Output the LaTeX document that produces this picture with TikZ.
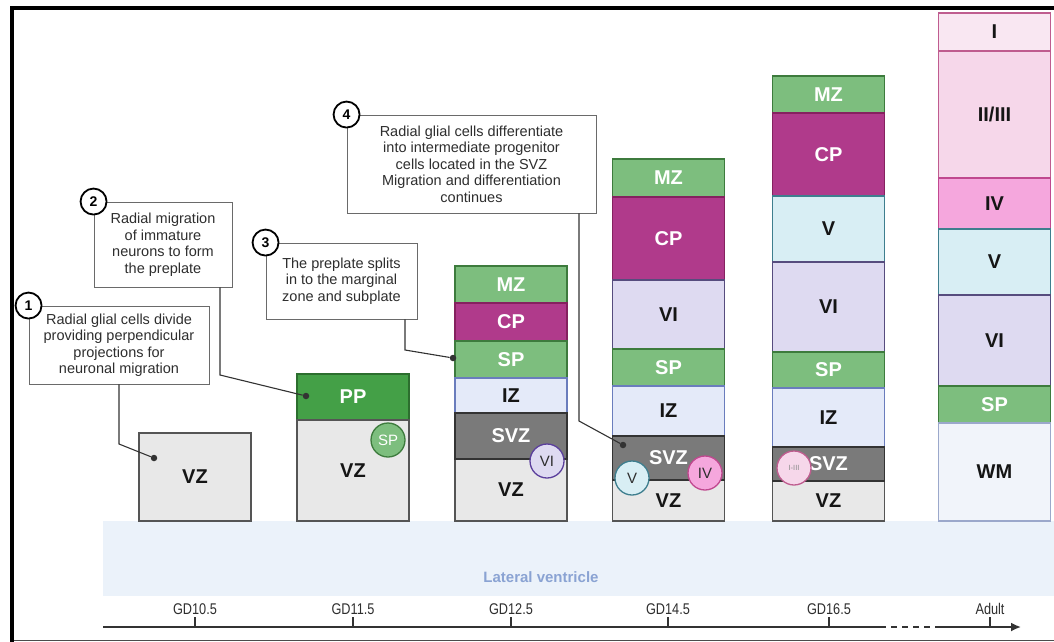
\documentclass[tikz,border=0pt]{standalone}
\usepackage{fontspec}
\setmainfont{Liberation Sans}
\newfontfamily\condfont[FakeStretch=0.82]{Liberation Sans}
\usetikzlibrary{arrows.meta}

% palette
\definecolor{ink}{HTML}{151515}
\definecolor{txt}{HTML}{2E2E2E}
\definecolor{boxline}{HTML}{6A6A6A}
\definecolor{leadc}{HTML}{333333}
\definecolor{ventfill}{HTML}{EBF2FA}
\definecolor{venttext}{HTML}{8AA3D3}
\definecolor{mzfill}{HTML}{7DBE7E}\definecolor{mzline}{HTML}{3D7B3D}
\definecolor{ppfill}{HTML}{44A047}\definecolor{ppline}{HTML}{2C6E2E}
\definecolor{cpfill}{HTML}{B03A8B}\definecolor{cpline}{HTML}{85215F}
\definecolor{izfill}{HTML}{E4EAF9}\definecolor{izline}{HTML}{6A7DBD}
\definecolor{svzfill}{HTML}{7A7A7A}\definecolor{svzline}{HTML}{333333}
\definecolor{vzfill}{HTML}{E8E8E8}\definecolor{vzline}{HTML}{555555}
\definecolor{vifill}{HTML}{DEDAF1}\definecolor{viline}{HTML}{564C7E}
\definecolor{vicirc}{HTML}{5B3F9C}
\definecolor{vfill}{HTML}{D8EEF4}\definecolor{vline}{HTML}{3E7E8E}
\definecolor{ivfill}{HTML}{F5A7DD}\definecolor{ivline}{HTML}{C0488F}
\definecolor{iifill}{HTML}{F6D7EA}\definecolor{iiline}{HTML}{BF5C8F}
\definecolor{ifill}{HTML}{F9E7F2}
\definecolor{wmfill}{HTML}{F1F4FA}\definecolor{wmline}{HTML}{9BA8CB}

% one layer of a cortical column: name, style, x centre, top, bottom, label
\newcommand\lyr[6]{%
  \pgfmathsetmacro\lyrh{#5-#4}%
  \pgfmathsetmacro\lyry{(#4+#5)/2}%
  \node[lyr,#2,minimum height=\lyrh pt] (#1) at (#3,\lyry) {#6};}

\begin{document}
\begin{tikzpicture}[x=1pt,y=-1pt,
  lyr/.style={draw, rectangle, inner sep=0pt, minimum width=112pt, line width=1.1pt,
    font=\fontsize{20}{24}\selectfont\bfseries, text=ink},
  zMZ/.style={fill=mzfill, draw=mzline, text=white},
  zPP/.style={fill=ppfill, draw=ppline, text=white},
  zCP/.style={fill=cpfill, draw=cpline, text=white},
  zIZ/.style={fill=izfill, draw=izline},
  zSVZ/.style={fill=svzfill, draw=svzline, text=white},
  zVZ/.style={fill=vzfill, draw=vzline},
  zVI/.style={fill=vifill, draw=viline},
  zV/.style={fill=vfill, draw=vline},
  zIV/.style={fill=ivfill, draw=ivline},
  zII/.style={fill=iifill, draw=iiline},
  zI/.style={fill=ifill, draw=iiline},
  zWM/.style={fill=wmfill, draw=wmline},
  cel/.style={circle, draw, line width=1.3pt, minimum size=34pt, inner sep=0pt,
    font=\fontsize{15}{18}\selectfont, text=txt},
  callout/.style={draw=boxline, line width=0.9pt, fill=white, align=center, inner sep=0pt,
    font=\fontsize{14.5}{16.5}\selectfont, text=txt},
  badge/.style={circle, draw=black, line width=1.8pt, fill=white, minimum size=26pt,
    inner sep=0pt, font=\fontsize{14}{16}\selectfont\bfseries},
  lead/.style={draw=leadc, line width=1.1pt},
  dot/.style={circle, fill=leadc, inner sep=0pt, minimum size=6.5pt},
  ticklab/.style={font=\condfont\fontsize{15.5}{18}\selectfont, text=txt, inner sep=1pt},
  axis/.style={draw=leadc, line width=1.8pt}]

\useasboundingbox (0,0) rectangle (1054,642);
\fill[white] (0,0) rectangle (1054,642);

% lateral ventricle
\node[fill=ventfill, minimum width=951pt, minimum height=75pt, inner sep=0pt] (vent) at (578.5,558.5) {};
\node[font=\fontsize{15}{18}\selectfont\bfseries, text=venttext] (ventlab) at (541,577) {Lateral ventricle};

% GD10.5
\lyr{aVZ}{zVZ}{195}{433}{521}{VZ}

% GD11.5
\lyr{bPP}{zPP}{353}{374}{420}{PP}
\lyr{bVZ}{zVZ}{353}{420}{521}{VZ}
\node[cel, fill=mzfill, draw=mzline, text=white] (bSPc) at (388,440) {SP};

% GD12.5
\lyr{cMZ}{zMZ}{511}{266}{303}{MZ}
\lyr{cCP}{zCP}{511}{303}{341}{CP}
\lyr{cSP}{zMZ}{511}{341}{378}{SP}
\lyr{cIZ}{zIZ}{511}{378}{413}{IZ}
\lyr{cVZ}{zVZ}{511}{459}{521}{VZ}
\lyr{cSVZ}{zSVZ}{511}{413}{459}{SVZ}
\node[cel, fill=vifill, draw=vicirc] (cVIc) at (547,461) {VI};

% GD14.5
\lyr{dMZ}{zMZ}{668.5}{159}{197}{MZ}
\lyr{dCP}{zCP}{668.5}{197}{280}{CP}
\lyr{dVI}{zVI}{668.5}{280}{349}{VI}
\lyr{dSP}{zMZ}{668.5}{349}{386}{SP}
\lyr{dIZ}{zIZ}{668.5}{386}{436}{IZ}
\lyr{dVZ}{zVZ}{668.5}{480}{521}{VZ}
\lyr{dSVZ}{zSVZ}{668.5}{436}{480}{SVZ}
\node[cel, fill=vfill, draw=vline] (dVc) at (632,478) {V};
\node[cel, fill=ivfill, draw=ivline] (dIVc) at (705,473) {IV};

% GD16.5
\lyr{eMZ}{zMZ}{828.5}{76}{113}{MZ}
\lyr{eCP}{zCP}{828.5}{113}{196}{CP}
\lyr{eV}{zV}{828.5}{196}{262}{V}
\lyr{eVI}{zVI}{828.5}{262}{352}{VI}
\lyr{eSP}{zMZ}{828.5}{352}{388}{SP}
\lyr{eIZ}{zIZ}{828.5}{388}{447}{IZ}
\lyr{eVZ}{zVZ}{828.5}{481}{521}{VZ}
\lyr{eSVZ}{zSVZ}{828.5}{447}{481}{SVZ}
\node[cel, fill=iifill, draw=iiline, text=black!45, font=\fontsize{7.5}{9}\selectfont] (eIIIc) at (794,468) {I-III};

% adult
\lyr{fI}{zI}{994.5}{13}{51}{I}
\lyr{fII}{zII}{994.5}{51}{178}{II/III}
\lyr{fIV}{zIV}{994.5}{178}{229}{IV}
\lyr{fV}{zV}{994.5}{229}{295}{V}
\lyr{fVI}{zVI}{994.5}{295}{386}{VI}
\lyr{fSP}{zMZ}{994.5}{386}{423}{SP}
\lyr{fWM}{zWM}{994.5}{423}{521}{WM}

% callouts
\node[callout, minimum width=180pt, minimum height=78pt] (b1) at (119,345)
  {Radial glial cells divide\\providing perpendicular\\projections for\\neuronal migration};
\node[callout, minimum width=138pt, minimum height=85pt] (b2) at (163,244.5)
  {Radial migration\\of immature\\neurons to form\\the preplate};
\node[callout, minimum width=151pt, minimum height=76pt] (b3) at (341.5,281)
  {The preplate splits\\in to the marginal\\zone and subplate};
\node[callout, minimum width=249pt, minimum height=98pt] (b4) at (471.5,164)
  {Radial glial cells differentiate\\into intermediate progenitor\\cells located in the SVZ\\Migration and differentiation\\continues};

% leader lines
\node[dot] (p1) at (154,458) {};
\node[dot] (p2) at (306,396) {};
\node[dot] (p3) at (453,358) {};
\node[dot] (p4) at (623,445) {};
\coordinate (k1) at (119,444);
\coordinate (k2) at (220,375);
\coordinate (k3) at (405,350);
\coordinate (k4) at (579,421);
\draw[lead] (b1.south -| k1) -- (k1) -- (p1);
\draw[lead] (b2.south -| k2) -- (k2) -- (p2);
\draw[lead] (b3.south -| k3) -- (k3) -- (p3);
\draw[lead] (b4.south -| k4) -- (k4) -- (p4);

\node[badge] (n1) at (b1.north west) {1};
\node[badge] (n2) at (b2.north west) {2};
\node[badge] (n3) at (b3.north west) {3};
\node[badge] (n4) at (b4.north west) {4};

% time axis
\coordinate (axL) at (103,627);
\coordinate (axD1) at (886,627);
\coordinate (axD2) at (940,627);
\coordinate (axR) at (1021,627);
\draw[axis] (axL) -- (axD1);
\draw[axis, dash pattern=on 6pt off 5pt] ([xshift=5pt]axD1) -- (axD2);
\draw[axis, -{Latex[length=10pt,width=9pt]}] (axD2) -- (axR);
\foreach \nm/\xx/\lab in {t1/195/GD10.5, t2/353/GD11.5, t3/511/GD12.5, t4/668/GD14.5, t5/829/GD16.5, t6/990/Adult}{
  \node[ticklab] (\nm) at (\xx,609) {\lab};
  \draw[lead, line width=1.4pt] (\nm.center |- axL) -- ++(0,-10);
}

% frame
\draw[line width=1.4pt, draw=black!70] (12,640.5) -- (1054,640.5);
\draw[line width=4pt, line cap=rect] (12,642) -- (12,8) -- (1054,8);
\end{tikzpicture}
\end{document}
